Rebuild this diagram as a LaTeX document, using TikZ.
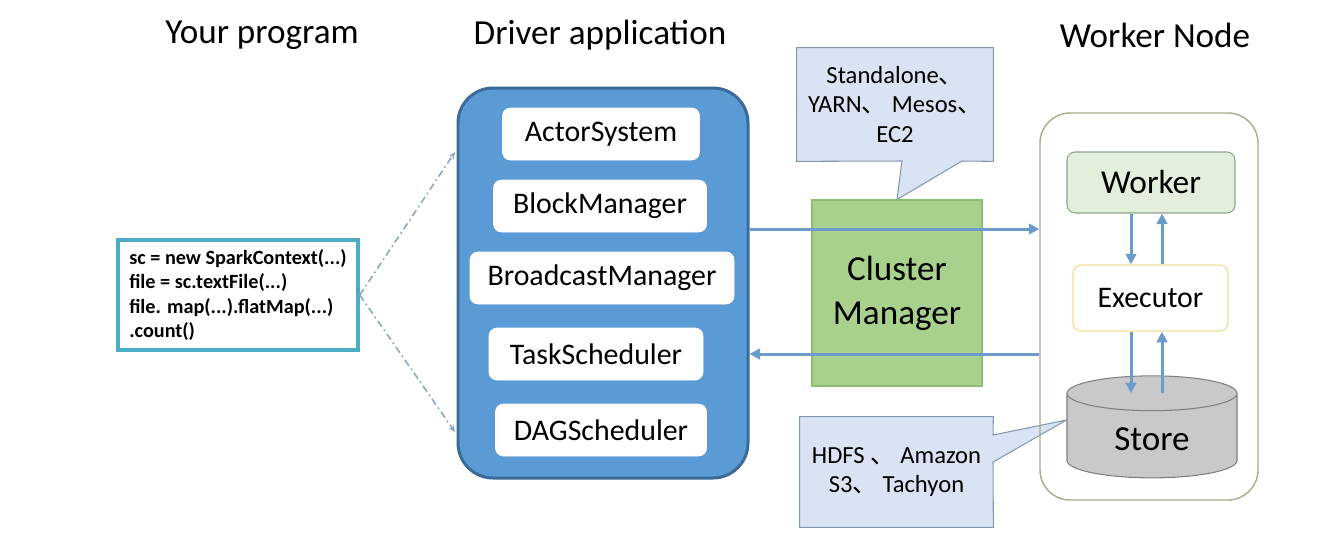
\documentclass[tikz,border=0pt]{standalone}
\usepackage{fontspec}
\setmainfont{Carlito}
\newfontfamily\cjk{Noto Sans CJK SC}
\usetikzlibrary{arrows.meta,shapes.geometric,backgrounds}
\newcommand\dunhao{{\cjk 、}}
\def\px{0.02cm}

\definecolor{drvfill}{HTML}{5B9BD5}
\definecolor{drvline}{HTML}{3A6A98}
\definecolor{codeline}{HTML}{4BACC6}
\definecolor{flowcol}{HTML}{6A9BCB}
\definecolor{dashcol}{HTML}{8EA6BE}
\definecolor{cmfill}{HTML}{A9D18E}
\definecolor{cmline}{HTML}{8CBF72}
\definecolor{callfill}{HTML}{DAE3F3}
\definecolor{callline}{HTML}{8497B0}
\definecolor{wnline}{HTML}{A8AA8E}
\definecolor{wkfill}{HTML}{E2EFDA}
\definecolor{wkline}{HTML}{8FA58F}
\definecolor{exline}{HTML}{F0E2A0}
\definecolor{stfill}{HTML}{C9C9C9}
\definecolor{stline}{HTML}{7F7F7F}

\tikzset{
  title/.style={font=\fontsize{20}{24}\selectfont},
  inbox/.style={draw=white, fill=white, rounded corners=8*\px, minimum height=52*\px,
    font=\fontsize{17}{20}\selectfont},
  flow/.style={draw=flowcol, line width=1.7pt, -{Triangle[length=6pt,width=6pt]}},
  link/.style={draw=dashcol, line width=0.9pt, dash pattern=on 4pt off 2pt on 1pt off 2pt,
    -{Stealth[length=4pt,width=3.5pt]}},
  callout/.style={draw=callline, fill=callfill, line width=0.6pt},
  calltext/.style={align=center, font=\fontsize{14}{17}\selectfont}
}

\begin{document}
\begin{tikzpicture}[x=\px, y=-\px]
    \useasboundingbox (0,0) rectangle (1342,539);

    % titles
    \node[title] (tprog) at (262,35) {Your program};
    \node[title] (tdrv) at (600,35) {Driver application};
    \node[title] (twn) at (1155,35) {Worker Node};

    % user code
    \node[draw=codeline, line width=2pt, fill=white, align=left, minimum width=240*\px,
      minimum height=110*\px, font=\fontsize{11.5}{14}\selectfont\bfseries]
      (code) at (238,295) {sc = new SparkContext(...)\\file = sc.textFile(...)\\file. map(...).flatMap(...)\\.count()};

    % driver application
    \node[draw=drvline, fill=drvfill, line width=1.7pt, rounded corners=35*\px,
      minimum width=290*\px, minimum height=390*\px] (drv) at (603,283) {};
    \node[inbox, minimum width=197*\px] (as) at (601,134) {ActorSystem};
    \node[inbox, minimum width=213*\px] (bm) at (600,206) {BlockManager};
    \node[inbox, minimum width=264*\px] (bcm) at (602,278) {BroadcastManager};
    \node[inbox, minimum width=214*\px] (ts) at (596,354) {TaskScheduler};
    \node[inbox, minimum width=211*\px] (dag) at (601,430) {DAGScheduler};

    \coordinate (drvtop) at (455,152);
    \coordinate (drvbot) at (455,432);
    \draw[link] (code.east) -- (drvtop);
    \draw[link] (code.east) -- (drvbot);

    % cluster manager
    \node[draw=cmline, fill=cmfill, line width=0.6pt, minimum width=170*\px, minimum height=186*\px,
      align=center, font=\fontsize{20}{25}\selectfont] (cm) at (897,293) {Cluster\\Manager};

    % worker node
    \node[draw=wnline, line width=0.8pt, rounded corners=30*\px,
      minimum width=218*\px, minimum height=387*\px] (wn) at (1149,306.5) {};
    \node[draw=wkline, fill=wkfill, line width=0.6pt, rounded corners=8*\px,
      minimum width=168*\px, minimum height=61*\px, font=\fontsize{19}{22}\selectfont] (wk) at (1151,182.5) {Worker};
    \node[draw=exline, fill=white, line width=0.8pt, rounded corners=8*\px,
      minimum width=155*\px, minimum height=66*\px, font=\fontsize{17}{20}\selectfont] (ex) at (1150.5,298) {Executor};
    \node[cylinder, shape border rotate=90, aspect=0.4, draw=stline, fill=stfill, line width=0.6pt,
      minimum width=170*\px, minimum height=102*\px, font=\fontsize{20}{24}\selectfont] (store) at (1152,439) {Store};

    % driver <-> worker
    \draw[flow] (drv.east |- 0,229) -- (wn.west |- 0,229);
    \draw[flow] (wn.west |- ts) -- (drv.east |- ts);
    \draw[flow] (wk.south -| 1131,0) -- (ex.north -| 1131,0);
    \draw[flow] (ex.north -| 1162,0) -- (wk.south -| 1162,0);
    \draw[flow] (ex.south -| 1131,0) -- (store.before top -| 1131,0);
    \draw[flow] (store.before top -| 1162,0) -- (ex.south -| 1162,0);

    % callouts
    \node[calltext, minimum width=196*\px, minimum height=113*\px] (cmtxt) at (895,104.5)
      {Standalone\dunhao\\YARN\dunhao{} Mesos\dunhao\\EC2};
    \node[calltext, minimum width=193*\px, minimum height=110*\px] (fstxt) at (896.5,472)
      {HDFS \dunhao{} Amazon\\S3\dunhao{} Tachyon};
    \begin{scope}[on background layer]
      \draw[callout] (cmtxt.north west) -- (cmtxt.north east) -- (cmtxt.south east) -- (962,161)
        -- (cm.north) -- (902,161) -- (cmtxt.south west) -- cycle;
      \draw[callout] (fstxt.north west) -- (fstxt.north east) -- (993,435)
        -- ([yshift=19*\px]store.west) -- (993,462) -- (fstxt.south east) -- (fstxt.south west) -- cycle;
    \end{scope}
\end{tikzpicture}
\end{document}
